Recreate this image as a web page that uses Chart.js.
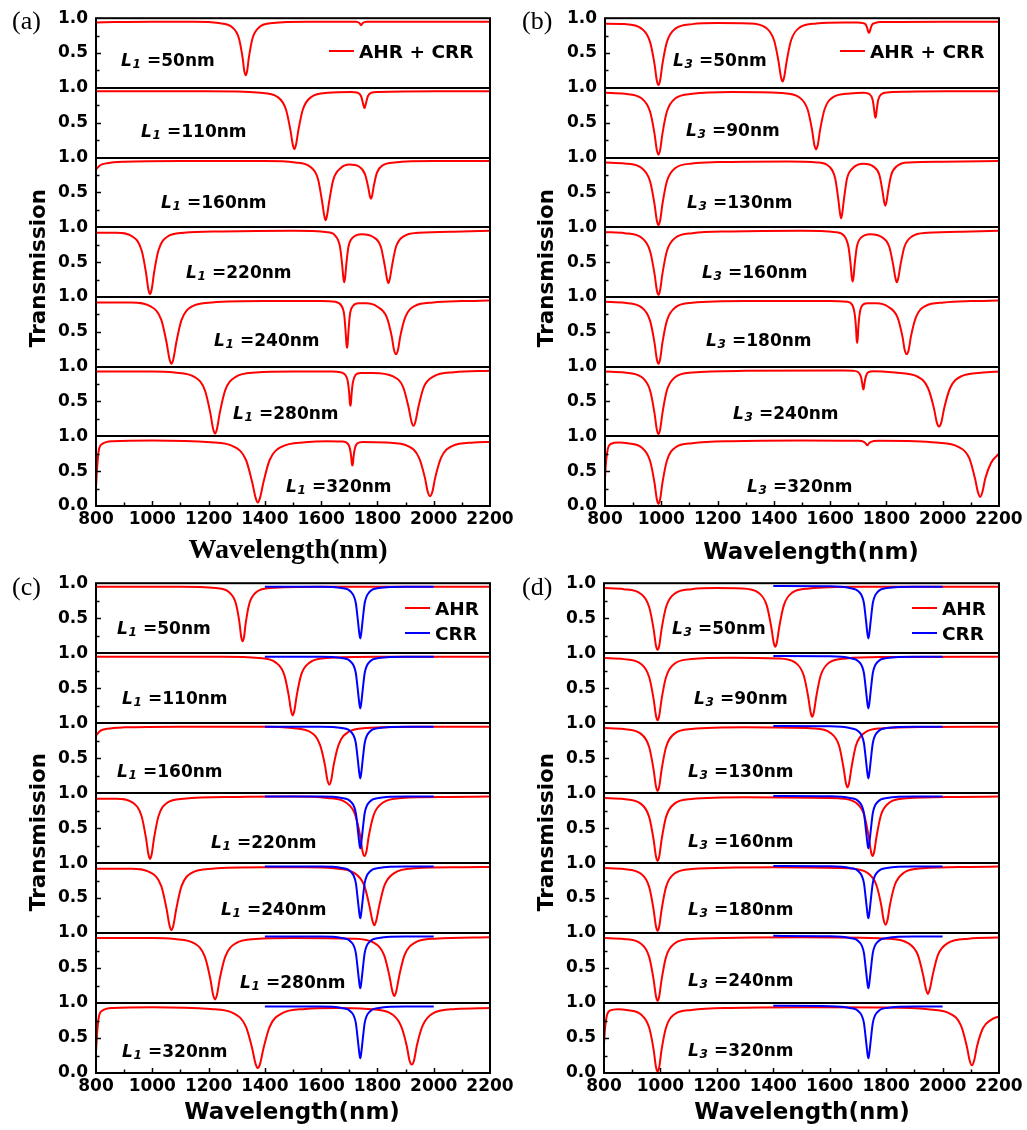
<!DOCTYPE html>
<html><head><meta charset="utf-8">
<script src="https://cdn.jsdelivr.net/npm/chart.js@4.4.1/dist/chart.umd.min.js"></script>
<style>
html,body{margin:0;padding:0;background:#fff;}
body{width:1027px;height:1130px;position:relative;overflow:hidden;}
canvas{position:absolute;}
</style></head><body>
<canvas id="pa"></canvas><canvas id="pb"></canvas><canvas id="pc"></canvas><canvas id="pd"></canvas>
<script>
// ---------- DATA ----------
const wavelengthRange = [800, 2200];
const wavelengthStep = 200;
const transmissionRange = [0, 1];
const L1values = ['50','110','160','220','240','280','320'];
const L3values = ['50','90','130','160','180','240','320'];

// Panel (a): AHR + CRR, varying L1  ([wavelength nm, transmission])
const a_L1_50 = [[800,0.94],[1000,0.95],[1150,0.95],[1236,0.93],[1284,0.87],[1308,0.71],[1321,0.43],[1327,0.24],[1332,0.18],[1337,0.24],[1343,0.43],[1356,0.71],[1380,0.87],[1428,0.93],[1550,0.95],[1724,0.95],[1736,0.93],[1742,0.90],[1748,0.93],[1760,0.95],[2000,0.95],[2200,0.95]];
const a_L1_110 = [[800,0.95],[1200,0.95],[1385,0.93],[1445,0.87],[1475,0.69],[1491,0.39],[1499,0.19],[1505,0.12],[1511,0.19],[1519,0.39],[1535,0.69],[1565,0.87],[1625,0.93],[1706,0.94],[1730,0.93],[1742,0.88],[1748,0.79],[1752,0.73],[1754,0.71],[1756,0.73],[1760,0.79],[1766,0.88],[1778,0.93],[1802,0.94],[2000,0.95],[2200,0.95]];
const a_L1_160 = [[800,0.83],[815,0.89],[840,0.92],[900,0.94],[1100,0.95],[1400,0.95],[1508,0.93],[1562,0.865],[1589,0.69],[1603,0.38],[1611,0.17],[1616,0.10],[1621,0.17],[1629,0.38],[1643,0.68],[1670,0.85],[1700,0.90],[1735,0.87],[1756,0.76],[1767,0.58],[1773,0.45],[1777,0.41],[1781,0.45],[1787,0.59],[1798,0.78],[1819,0.89],[1861,0.93],[2000,0.95],[2200,0.95]];
const a_L1_220 = [[800,0.92],[872,0.92],[932,0.86],[962,0.67],[978,0.34],[986,0.11],[992,0.04],[998,0.11],[1006,0.34],[1022,0.67],[1052,0.86],[1112,0.92],[1250,0.94],[1500,0.95],[1622,0.93],[1652,0.87],[1667,0.72],[1675,0.45],[1679,0.27],[1682,0.21],[1685,0.27],[1689,0.45],[1697,0.72],[1712,0.85],[1745,0.90],[1785,0.86],[1812,0.72],[1826,0.45],[1834,0.26],[1839,0.20],[1844,0.26],[1852,0.45],[1866,0.72],[1893,0.87],[1947,0.92],[2100,0.94],[2200,0.95]];
const a_L1_240 = [[800,0.92],[924,0.92],[996,0.86],[1032,0.67],[1051,0.34],[1061,0.11],[1068,0.04],[1075,0.11],[1085,0.34],[1104,0.67],[1140,0.86],[1212,0.92],[1400,0.94],[1600,0.94],[1650,0.93],[1671,0.88],[1682,0.74],[1687,0.50],[1690,0.32],[1692,0.27],[1694,0.32],[1697,0.50],[1702,0.74],[1713,0.87],[1734,0.91],[1760,0.91],[1800,0.86],[1833,0.71],[1851,0.43],[1859,0.24],[1866,0.18],[1873,0.24],[1881,0.43],[1899,0.71],[1932,0.87],[1998,0.92],[2100,0.94],[2200,0.95]];
const a_L1_280 = [[800,0.93],[1000,0.93],[1079,0.915],[1151,0.85],[1187,0.66],[1206,0.34],[1216,0.11],[1223,0.04],[1230,0.11],[1240,0.34],[1259,0.66],[1295,0.85],[1367,0.915],[1500,0.93],[1640,0.93],[1668,0.92],[1686,0.88],[1695,0.78],[1700,0.60],[1702,0.48],[1704,0.44],[1706,0.48],[1708,0.60],[1713,0.78],[1722,0.88],[1740,0.91],[1784,0.91],[1856,0.86],[1892,0.70],[1911,0.41],[1921,0.21],[1928,0.15],[1935,0.21],[1945,0.41],[1964,0.70],[2000,0.86],[2072,0.92],[2200,0.94]];
const a_L1_320 = [[800,0.27],[804,0.55],[810,0.80],[822,0.89],[860,0.93],[1000,0.94],[1207,0.915],[1291,0.85],[1333,0.66],[1355,0.34],[1367,0.12],[1375,0.05],[1383,0.12],[1395,0.34],[1417,0.66],[1459,0.85],[1543,0.915],[1620,0.93],[1675,0.925],[1693,0.90],[1702,0.83],[1707,0.70],[1709,0.61],[1711,0.58],[1713,0.61],[1715,0.70],[1720,0.83],[1729,0.90],[1747,0.92],[1831,0.91],[1909,0.86],[1948,0.69],[1969,0.40],[1979,0.20],[1987,0.14],[1995,0.20],[2005,0.40],[2026,0.69],[2065,0.86],[2143,0.91],[2200,0.92]];

// Panel (b): AHR + CRR, varying L3
const b_L3_50 = [[800,0.92],[870,0.915],[930,0.85],[960,0.66],[976,0.34],[984,0.11],[990,0.04],[996,0.11],[1004,0.34],[1020,0.66],[1050,0.85],[1110,0.915],[1200,0.93],[1311,0.925],[1371,0.865],[1401,0.68],[1417,0.37],[1425,0.16],[1431,0.09],[1437,0.16],[1445,0.37],[1461,0.68],[1491,0.865],[1551,0.925],[1650,0.94],[1696,0.94],[1717,0.93],[1728,0.90],[1733,0.84],[1736,0.80],[1738,0.79],[1740,0.80],[1743,0.84],[1748,0.90],[1759,0.93],[1780,0.945],[2000,0.95],[2200,0.95]];
const b_L3_90 = [[800,0.93],[870,0.915],[930,0.85],[960,0.66],[976,0.34],[984,0.11],[990,0.04],[996,0.11],[1004,0.34],[1020,0.66],[1050,0.85],[1110,0.915],[1250,0.94],[1430,0.925],[1490,0.865],[1520,0.69],[1536,0.39],[1544,0.18],[1550,0.12],[1556,0.18],[1564,0.39],[1580,0.69],[1610,0.865],[1670,0.92],[1719,0.93],[1740,0.91],[1751,0.83],[1756,0.70],[1759,0.60],[1761,0.57],[1763,0.60],[1766,0.70],[1771,0.83],[1782,0.91],[1803,0.935],[2000,0.95],[2200,0.95]];
const b_L3_130 = [[800,0.93],[870,0.915],[930,0.85],[960,0.66],[976,0.33],[984,0.10],[990,0.03],[996,0.10],[1004,0.33],[1020,0.66],[1050,0.85],[1110,0.915],[1200,0.935],[1450,0.945],[1555,0.93],[1597,0.87],[1618,0.70],[1629,0.40],[1635,0.20],[1639,0.13],[1643,0.20],[1649,0.40],[1660,0.70],[1681,0.85],[1718,0.91],[1754,0.87],[1775,0.75],[1786,0.52],[1792,0.36],[1796,0.31],[1800,0.36],[1806,0.52],[1817,0.75],[1838,0.88],[1880,0.93],[2000,0.94],[2200,0.95]];
const b_L3_160 = [[800,0.93],[870,0.915],[930,0.85],[960,0.66],[976,0.33],[984,0.10],[990,0.03],[996,0.10],[1004,0.33],[1020,0.66],[1050,0.85],[1110,0.915],[1250,0.94],[1500,0.95],[1620,0.93],[1650,0.875],[1665,0.72],[1673,0.46],[1677,0.28],[1680,0.22],[1683,0.28],[1687,0.46],[1695,0.72],[1710,0.85],[1743,0.90],[1783,0.86],[1810,0.72],[1824,0.46],[1832,0.27],[1837,0.21],[1842,0.27],[1850,0.46],[1864,0.72],[1891,0.87],[1945,0.92],[2100,0.94],[2200,0.95]];
const b_L3_180 = [[800,0.93],[870,0.915],[930,0.85],[960,0.66],[976,0.34],[984,0.11],[990,0.04],[996,0.11],[1004,0.34],[1020,0.66],[1050,0.85],[1110,0.915],[1300,0.94],[1600,0.94],[1660,0.93],[1678,0.89],[1687,0.76],[1692,0.55],[1694,0.40],[1696,0.34],[1698,0.40],[1700,0.55],[1705,0.76],[1714,0.88],[1732,0.91],[1765,0.91],[1806,0.86],[1839,0.71],[1857,0.43],[1865,0.24],[1872,0.18],[1879,0.24],[1887,0.43],[1905,0.71],[1938,0.87],[2004,0.92],[2100,0.94],[2200,0.95]];
const b_L3_240 = [[800,0.93],[870,0.915],[930,0.85],[960,0.66],[976,0.33],[984,0.10],[990,0.03],[996,0.10],[1004,0.33],[1020,0.66],[1050,0.85],[1110,0.915],[1300,0.94],[1650,0.945],[1682,0.94],[1700,0.92],[1709,0.86],[1714,0.76],[1716,0.70],[1718,0.67],[1720,0.70],[1722,0.76],[1727,0.86],[1736,0.92],[1754,0.935],[1831,0.915],[1909,0.86],[1948,0.69],[1969,0.40],[1979,0.20],[1987,0.14],[1995,0.20],[2005,0.40],[2026,0.69],[2065,0.86],[2143,0.915],[2200,0.93]];
const b_L3_320 = [[800,0.41],[804,0.65],[810,0.82],[820,0.89],[850,0.91],[880,0.90],[930,0.84],[960,0.65],[976,0.33],[984,0.10],[990,0.03],[996,0.10],[1004,0.33],[1020,0.65],[1050,0.84],[1110,0.90],[1250,0.93],[1500,0.94],[1700,0.935],[1720,0.92],[1727,0.895],[1732,0.87],[1737,0.895],[1745,0.92],[1770,0.935],[1900,0.93],[1977,0.91],[2055,0.85],[2094,0.69],[2115,0.39],[2125,0.20],[2133,0.13],[2141,0.20],[2151,0.39],[2172,0.62],[2200,0.75]];

// Panel (c): AHR (red) varying L1, CRR (blue)
const c_AHR_50 = [[800,0.95],[1100,0.95],[1225,0.93],[1273,0.87],[1297,0.71],[1310,0.43],[1316,0.23],[1321,0.17],[1326,0.23],[1332,0.43],[1345,0.71],[1369,0.87],[1417,0.93],[1600,0.95],[2200,0.95]];
const c_AHR_110 = [[800,0.95],[1250,0.95],[1379,0.93],[1439,0.865],[1469,0.69],[1485,0.39],[1493,0.18],[1499,0.11],[1505,0.18],[1513,0.39],[1529,0.69],[1559,0.865],[1619,0.93],[1800,0.95],[2200,0.95]];
const c_AHR_160 = [[800,0.82],[815,0.89],[840,0.92],[900,0.94],[1100,0.95],[1400,0.95],[1497,0.93],[1563,0.87],[1596,0.69],[1614,0.39],[1622,0.19],[1629,0.12],[1636,0.19],[1644,0.39],[1662,0.69],[1695,0.87],[1761,0.93],[1950,0.95],[2200,0.95]];
const c_AHR_220 = [[800,0.92],[872,0.92],[932,0.86],[962,0.67],[978,0.35],[986,0.13],[992,0.06],[998,0.13],[1006,0.35],[1022,0.67],[1052,0.86],[1112,0.92],[1300,0.945],[1500,0.95],[1622,0.93],[1688,0.865],[1721,0.69],[1739,0.38],[1747,0.17],[1754,0.10],[1761,0.17],[1769,0.38],[1787,0.69],[1820,0.865],[1886,0.93],[2050,0.945],[2200,0.95]];
const c_AHR_240 = [[800,0.92],[924,0.92],[996,0.86],[1032,0.67],[1051,0.34],[1061,0.11],[1068,0.04],[1075,0.11],[1085,0.34],[1104,0.67],[1140,0.86],[1212,0.92],[1400,0.94],[1550,0.94],[1645,0.925],[1717,0.86],[1753,0.68],[1772,0.38],[1782,0.18],[1789,0.11],[1796,0.18],[1806,0.38],[1825,0.68],[1861,0.86],[1933,0.925],[2100,0.94],[2200,0.945]];
const c_AHR_280 = [[800,0.93],[1000,0.93],[1079,0.915],[1151,0.85],[1187,0.66],[1206,0.35],[1216,0.12],[1223,0.05],[1230,0.12],[1240,0.35],[1259,0.66],[1295,0.85],[1367,0.915],[1500,0.93],[1716,0.92],[1788,0.86],[1824,0.68],[1843,0.38],[1853,0.17],[1860,0.10],[1867,0.17],[1877,0.38],[1896,0.68],[1932,0.86],[2004,0.92],[2200,0.94]];
const c_AHR_320 = [[800,0.30],[804,0.57],[810,0.80],[822,0.89],[860,0.93],[1000,0.94],[1207,0.915],[1291,0.85],[1333,0.66],[1355,0.35],[1367,0.13],[1375,0.07],[1383,0.13],[1395,0.35],[1417,0.66],[1459,0.85],[1543,0.915],[1650,0.93],[1766,0.915],[1844,0.86],[1883,0.68],[1904,0.39],[1914,0.18],[1922,0.12],[1930,0.18],[1940,0.39],[1961,0.68],[2000,0.86],[2078,0.915],[2200,0.93]];
const c_CRR = [[1400,0.95],[1600,0.95],[1673,0.93],[1706,0.875],[1723,0.72],[1731,0.45],[1736,0.27],[1739,0.21],[1742,0.27],[1747,0.45],[1755,0.72],[1772,0.875],[1805,0.93],[1900,0.95],[2000,0.95]];

// Panel (d): AHR (red) varying L3, CRR (blue)
const d_AHR_50 = [[800,0.93],[870,0.915],[930,0.85],[960,0.66],[976,0.34],[984,0.11],[990,0.05],[996,0.11],[1004,0.34],[1020,0.66],[1050,0.85],[1110,0.915],[1200,0.93],[1287,0.925],[1347,0.865],[1377,0.68],[1393,0.37],[1401,0.16],[1407,0.09],[1413,0.16],[1421,0.37],[1437,0.68],[1467,0.865],[1527,0.925],[1700,0.95],[2200,0.95]];
const d_AHR_90 = [[800,0.93],[870,0.915],[930,0.85],[960,0.66],[976,0.34],[984,0.11],[990,0.04],[996,0.11],[1004,0.34],[1020,0.66],[1050,0.85],[1110,0.915],[1250,0.935],[1418,0.925],[1478,0.865],[1508,0.68],[1524,0.37],[1532,0.16],[1538,0.09],[1544,0.16],[1552,0.37],[1568,0.68],[1598,0.865],[1658,0.925],[1800,0.945],[2200,0.95]];
const d_AHR_130 = [[800,0.93],[870,0.915],[930,0.85],[960,0.66],[976,0.33],[984,0.10],[990,0.03],[996,0.10],[1004,0.33],[1020,0.66],[1050,0.85],[1110,0.915],[1300,0.94],[1543,0.925],[1603,0.86],[1633,0.68],[1649,0.36],[1657,0.15],[1663,0.08],[1669,0.15],[1677,0.36],[1693,0.68],[1723,0.86],[1783,0.925],[1950,0.945],[2200,0.95]];
const d_AHR_160 = [[800,0.93],[870,0.915],[930,0.85],[960,0.66],[976,0.33],[984,0.10],[990,0.03],[996,0.10],[1004,0.33],[1020,0.66],[1050,0.85],[1110,0.915],[1300,0.94],[1632,0.925],[1692,0.865],[1722,0.69],[1738,0.38],[1746,0.17],[1752,0.10],[1758,0.17],[1766,0.38],[1782,0.69],[1812,0.865],[1872,0.925],[2050,0.945],[2200,0.95]];
const d_AHR_180 = [[800,0.93],[870,0.915],[930,0.85],[960,0.66],[976,0.33],[984,0.10],[990,0.03],[996,0.10],[1004,0.33],[1020,0.66],[1050,0.85],[1110,0.915],[1400,0.94],[1666,0.925],[1732,0.865],[1765,0.69],[1783,0.39],[1791,0.19],[1798,0.12],[1805,0.19],[1813,0.39],[1831,0.69],[1864,0.865],[1930,0.925],[2100,0.945],[2200,0.95]];
const d_AHR_240 = [[800,0.93],[870,0.915],[930,0.85],[960,0.66],[976,0.33],[984,0.10],[990,0.03],[996,0.10],[1004,0.33],[1020,0.66],[1050,0.85],[1110,0.915],[1500,0.94],[1804,0.92],[1876,0.86],[1912,0.69],[1931,0.40],[1941,0.20],[1948,0.13],[1955,0.20],[1965,0.40],[1984,0.69],[2020,0.86],[2092,0.92],[2200,0.935]];
const d_AHR_320 = [[800,0.42],[804,0.65],[810,0.82],[820,0.89],[850,0.91],[880,0.90],[930,0.84],[960,0.65],[976,0.33],[984,0.09],[990,0.02],[996,0.09],[1004,0.33],[1020,0.65],[1050,0.84],[1110,0.90],[1250,0.93],[1500,0.94],[1800,0.935],[1948,0.91],[2026,0.85],[2065,0.68],[2086,0.38],[2096,0.18],[2104,0.11],[2112,0.18],[2122,0.38],[2143,0.64],[2172,0.76],[2200,0.81]];
const d_CRR = [[1400,0.96],[1600,0.955],[1671,0.93],[1704,0.875],[1721,0.72],[1729,0.45],[1734,0.27],[1737,0.21],[1740,0.27],[1745,0.45],[1753,0.72],[1770,0.875],[1803,0.93],[1900,0.95],[2000,0.95]];

const panelA_red = [a_L1_50,a_L1_110,a_L1_160,a_L1_220,a_L1_240,a_L1_280,a_L1_320];
const panelB_red = [b_L3_50,b_L3_90,b_L3_130,b_L3_160,b_L3_180,b_L3_240,b_L3_320];
const panelC_red = [c_AHR_50,c_AHR_110,c_AHR_160,c_AHR_220,c_AHR_240,c_AHR_280,c_AHR_320];
const panelD_red = [d_AHR_50,d_AHR_90,d_AHR_130,d_AHR_160,d_AHR_180,d_AHR_240,d_AHR_320];

// ---------- LAYOUT / STYLE ----------
const RED = '#ff0000', BLUE = '#0000ff';
const SANS = '"DejaVu Sans"';
const panels = [
  {id:'pa', tag:'(a)', left:0, top:0, w:520, h:565, padRight:30, xAxisH:59, red:panelA_red, blue:null, sub:'1', vals:L1values,
   legend:['AHR + CRR'], legX:329, legY:51,
   labDx:[25,45,65,90,118,137,190], labDy:[48,49,50,50.5,49.3,52.6,55.3],
   xTitleFont:'bold 28px "Liberation Serif"', xTitleX:288, xTitleY:558, yTitleX:45, yTitleY:268, tagX:12, tagY:29},
  {id:'pb', tag:'(b)', left:509, top:0, w:518, h:565, padRight:28, xAxisH:59, red:panelB_red, blue:null, sub:'3', vals:L3values,
   legend:['AHR + CRR'], legX:840, legY:51,
   labDx:[68,81,82,97,101,128,142], labDy:[48,48,50,50.5,49.3,52.6,55.3],
   xTitleFont:'bold 23px '+SANS, xTitleX:811, xTitleY:559, yTitleX:553, yTitleY:268, tagX:522, tagY:29},
  {id:'pc', tag:'(c)', left:0, top:565, w:520, h:565, padRight:30, xAxisH:57, red:panelC_red, blue:c_CRR, sub:'1', vals:L1values,
   legend:['AHR','CRR'], legX:405, legY:608,
   labDx:[21,26,21,115,125,144,26], labDy:[50.7,51.3,53.5,54.8,51.7,54.7,53.6],
   xTitleFont:'bold 23px '+SANS, xTitleX:292, xTitleY:1119, yTitleX:45, yTitleY:832, tagX:12, tagY:595},
  {id:'pd', tag:'(d)', left:508, top:565, w:519, h:565, padRight:28, xAxisH:57, red:panelD_red, blue:d_CRR, sub:'3', vals:L3values,
   legend:['AHR','CRR'], legX:912, legY:608,
   labDx:[68,90,84,84,84,84,84], labDy:[50.7,51.3,53.5,53.5,52,53,53],
   xTitleFont:'bold 23px '+SANS, xTitleX:802, xTitleY:1119, yTitleX:553, yTitleY:832, tagX:522, tagY:595}
];
const STRIPS = 7;

function toPoints(arr, k) { return arr.map(p => ({x: p[0], y: p[1] + (STRIPS - 1 - k)})); }

function makeDecor(P) {
  return {
    id: 'decor_' + P.id,
    afterDraw(chart) {
      const ctx = chart.ctx, ca = chart.chartArea;
      const xs = chart.scales.x, ys = chart.scales.y;
      ctx.save();
      ctx.strokeStyle = '#000'; ctx.lineWidth = 2;
      // strip dividers
      for (let k = 1; k < STRIPS; k++) {
        const y = Math.round(ys.getPixelForValue(k));
        ctx.beginPath(); ctx.moveTo(ca.left, y); ctx.lineTo(ca.right, y); ctx.stroke();
      }
      ctx.strokeRect(ca.left, ca.top, ca.right - ca.left, ca.bottom - ca.top);
      // inward ticks
      ctx.lineWidth = 1.5;
      for (let v = 0; v <= STRIPS; v += 0.25) {
        if (Number.isInteger(v)) continue;
        const y = Math.round(ys.getPixelForValue(v)) + 0.5;
        const len = (v * 2) % 1 === 0 ? 5 : 3.5;
        ctx.beginPath(); ctx.moveTo(ca.left, y); ctx.lineTo(ca.left + len, y); ctx.stroke();
      }
      for (let v = wavelengthRange[0] + 100; v < wavelengthRange[1]; v += 100) {
        const x = Math.round(xs.getPixelForValue(v)) + 0.5;
        const len = v % 200 === 0 ? 5 : 3.5;
        ctx.beginPath(); ctx.moveTo(x, ca.bottom); ctx.lineTo(x, ca.bottom - len); ctx.stroke();
      }
      // strip labels
      ctx.fillStyle = '#000'; ctx.textAlign = 'left'; ctx.textBaseline = 'alphabetic';
      for (let k = 0; k < STRIPS; k++) {
        const top = ys.getPixelForValue(STRIPS - k);
        const x = ca.left + P.labDx[k], y = top + P.labDy[k];
        ctx.font = 'italic bold 17px ' + SANS; ctx.fillText('L', x, y);
        ctx.font = 'italic bold 12px ' + SANS; ctx.fillText(P.sub, x + 11.5, y + 2);
        ctx.font = 'bold 17px ' + SANS; ctx.fillText('=' + P.vals[k] + 'nm', x + 26, y);
      }
      // legend
      const L = P.left, T = P.top;
      ctx.font = 'bold 18.5px ' + SANS;
      P.legend.forEach((t, i) => {
        const y = P.legY + i * 25 - T;
        ctx.strokeStyle = (P.legend.length === 2 && i === 1) ? BLUE : RED;
        ctx.lineWidth = 2;
        ctx.beginPath(); ctx.moveTo(P.legX - L, y); ctx.lineTo(P.legX - L + 25, y); ctx.stroke();
        ctx.fillText(t, P.legX - L + 30, y + 6.5);
      });
      // axis titles
      ctx.font = P.xTitleFont; ctx.textAlign = 'center';
      ctx.fillText('Wavelength(nm)', P.xTitleX - L, P.xTitleY - T);
      ctx.save();
      ctx.translate(P.yTitleX - L, P.yTitleY - T); ctx.rotate(-Math.PI / 2);
      ctx.font = 'bold 21.5px ' + SANS; ctx.fillText('Transmission', 0, 0);
      ctx.restore();
      // panel tag
      ctx.textAlign = 'left'; ctx.font = '26px "Liberation Serif"';
      ctx.fillText(P.tag, P.tagX - L, P.tagY - T);
      ctx.restore();
    }
  };
}

panels.forEach(P => {
  const cv = document.getElementById(P.id);
  cv.width = P.w; cv.height = P.h;
  cv.style.left = P.left + 'px'; cv.style.top = P.top + 'px';
  cv.style.width = P.w + 'px'; cv.style.height = P.h + 'px';
  const datasets = [];
  if (P.blue) {
    for (let k = 0; k < STRIPS; k++) {
      datasets.push({data: toPoints(P.blue, k), borderColor: BLUE, borderWidth: 2, pointRadius: 0, fill: false, cubicInterpolationMode: 'monotone', order: 0});
    }
  }
  P.red.forEach((arr, k) => {
    datasets.push({data: toPoints(arr, k), borderColor: RED, borderWidth: 2, pointRadius: 0, fill: false, cubicInterpolationMode: 'monotone', order: 1});
  });
  new Chart(cv, {
    type: 'line',
    data: {datasets},
    options: {
      responsive: false, animation: false, devicePixelRatio: 1,
      layout: {padding: {top: 15, right: P.padRight, left: 0, bottom: 0}},
      plugins: {legend: {display: false}, tooltip: {enabled: false}},
      scales: {
        x: {type: 'linear', min: wavelengthRange[0], max: wavelengthRange[1],
            afterFit: s => { s.height = P.xAxisH; },
            grid: {display: false, drawTicks: false}, border: {display: false},
            ticks: {stepSize: wavelengthStep, autoSkip: false, maxRotation: 0, padding: 3, color: '#000',
                    font: {family: 'DejaVu Sans', weight: 'bold', size: 17}, callback: v => String(v)}},
        y: {type: 'linear', min: transmissionRange[0], max: STRIPS * transmissionRange[1],
            afterFit: s => { s.width = 96; },
            grid: {display: false, drawTicks: false}, border: {display: false},
            ticks: {stepSize: 0.5, autoSkip: false, padding: 8, color: '#000',
                    font: {family: 'DejaVu Sans', weight: 'bold', size: 17},
                    callback: v => v === 0 ? '0.0' : (Number.isInteger(v) ? '1.0' : '0.5')}}
      }
    },
    plugins: [makeDecor(P)]
  });
});
</script>
</body></html>
